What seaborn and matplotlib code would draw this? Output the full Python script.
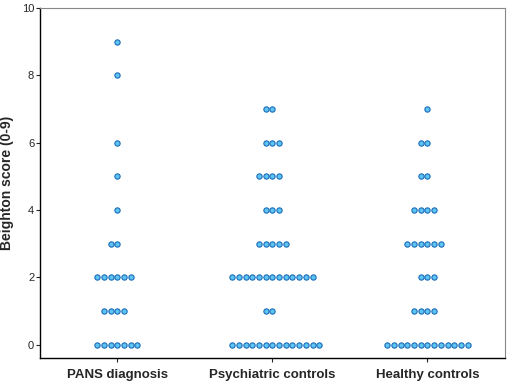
import matplotlib
matplotlib.use('Agg')
import matplotlib.pyplot as plt
import seaborn as sns
import numpy as np
import pandas as pd

# Beighton score counts per group (score -> number of subjects)
groups = ['PANS diagnosis', 'Psychiatric controls', 'Healthy controls']
scores = [0, 1, 2, 3, 4, 5, 6, 7, 8, 9]
pans_counts = [7, 4, 6, 2, 1, 1, 1, 0, 1, 1]
psych_counts = [14, 2, 13, 5, 3, 4, 3, 2, 0, 0]
healthy_counts = [13, 4, 3, 6, 4, 2, 2, 1, 0, 0]

rows = []
for g, counts in zip(groups, [pans_counts, psych_counts, healthy_counts]):
    for s, n in zip(scores, counts):
        rows += [{'group': g, 'score': s}] * n
df = pd.DataFrame(rows)

sns.set_style('white')
plt.rcParams['font.family'] = ['Liberation Sans', 'DejaVu Sans']

fig = plt.figure(figsize=(5.1, 3.9), dpi=100)
ax = fig.add_axes([0.078, 0.082, 0.912, 0.897])

# dots touch each other like the reference dot plot
sns.swarmplot(data=df, x='group', y='score', order=groups, ax=ax,
              size=3.8, color='#5ec4f2', edgecolor='#1a6cb8', linewidth=0.8)

ax.set_ylim(-0.4, 10)
ax.set_xlim(-0.5, 2.5)
ax.set_yticks([0, 2, 4, 6, 8, 10])
ax.tick_params(axis='y', labelsize=8, length=3, width=0.8, direction='out', left=True, pad=1)
ax.tick_params(axis='x', labelsize=9.5, length=3, width=0.8, direction='out', bottom=True, pad=5)
for lab in ax.get_xticklabels():
    lab.set_fontweight('bold')
ax.set_xlabel('')
ax.set_ylabel('Beighton score (0-9)', fontsize=10, fontweight='bold', labelpad=6)

for side in ['left', 'bottom']:
    ax.spines[side].set_color('black')
    ax.spines[side].set_linewidth(1.0)
for side in ['top', 'right']:
    ax.spines[side].set_color('#888888')
    ax.spines[side].set_linewidth(0.8)

plt.savefig('out.png', dpi=100)
plt.close()
